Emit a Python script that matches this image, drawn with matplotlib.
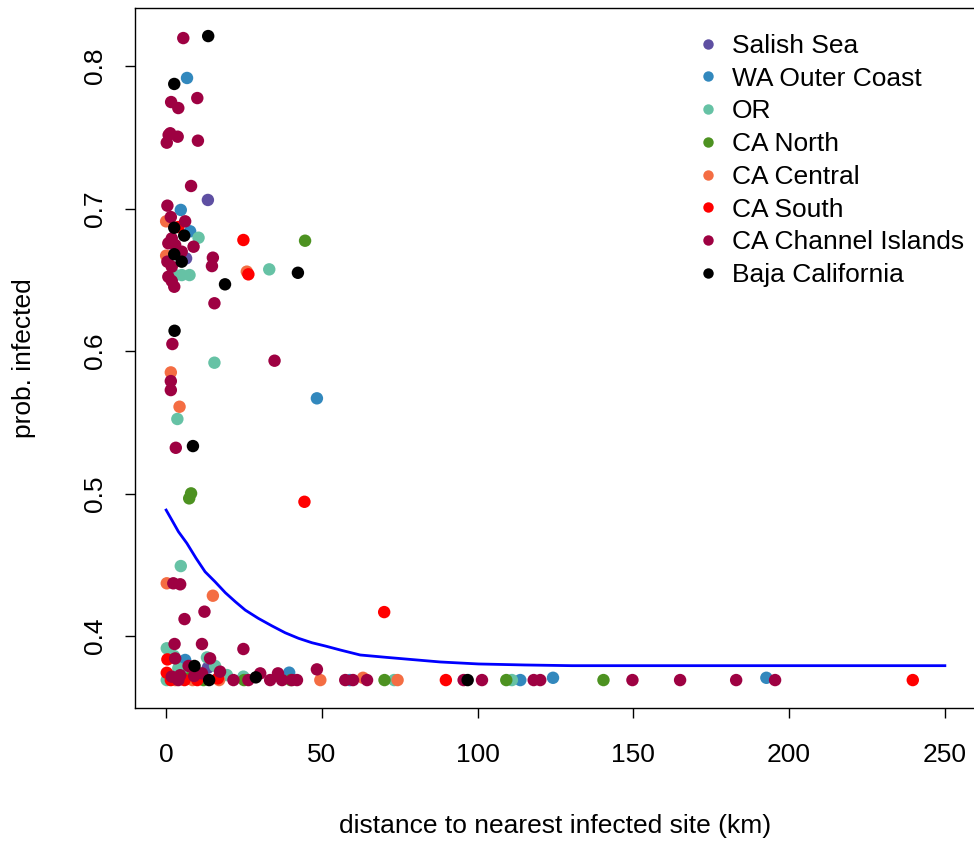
import matplotlib
matplotlib.use("Agg")
import matplotlib.pyplot as plt
from matplotlib.lines import Line2D

plt.rcParams['font.family'] = ['Liberation Sans', 'DejaVu Sans']

regions = ["Salish Sea", "WA Outer Coast", "OR", "CA North", "CA Central",
           "CA South", "CA Channel Islands", "Baja California"]
colors = ["#5E4FA2", "#3288BD", "#66C2A5", "#4D9221", "#F46D43",
          "#FF0000", "#9E0142", "#000000"]

salish_x = [13.4, 6.4, 13.4]
salish_y = [0.706, 0.665, 0.3778]

wa_x = [6.7, 4.7, 7.7, 48.4, 6.1, 39.5, 59.0, 113.7, 124.2, 192.7, 5.5]
wa_y = [0.7916, 0.699, 0.684, 0.5668, 0.3832, 0.3743, 0.3691, 0.3691, 0.3707, 0.3707, 0.372]

or_x = [10.4, 2.9, 5.0, 7.5, 33.1, 15.5, 3.6, 4.7, 0.2, 13.1, 3.9, 15.7, 0.2, 19.5,
        24.8, 73.2, 111.0, 2.5, 6.0]
or_y = [0.6795, 0.6533, 0.6533, 0.6533, 0.6573, 0.5918, 0.5523, 0.4491, 0.3914, 0.385,
        0.3774, 0.379, 0.3691, 0.3726, 0.3715, 0.3691, 0.3691, 0.386, 0.375]

can_x = [44.6, 8.0, 7.4, 7.2, 70.1, 109.2, 140.4, 25.0, 40.0, 12.0]
can_y = [0.6774, 0.5001, 0.4966, 0.3703, 0.3691, 0.3691, 0.3691, 0.3691, 0.3691, 0.3691]

cac_x = [0.0, 0.0, 25.9, 1.5, 4.3, 0.2, 15.0, 8.5, 49.5, 63.2, 74.3, 3.0, 17.0]
cac_y = [0.691, 0.6669, 0.6557, 0.585, 0.5609, 0.437, 0.4283, 0.3691, 0.3691, 0.3707,
         0.3691, 0.3691, 0.3691]

cas_x = [3.9, 24.8, 26.4, 44.4, 70.0, 0.4, 0.2, 5.9, 16.6, 89.8, 239.7, 1.5, 10.0]
cas_y = [0.687, 0.6779, 0.6538, 0.4942, 0.4168, 0.3836, 0.3742, 0.3691, 0.3703, 0.3691,
         0.3691, 0.3691, 0.3691]

cai_x = [5.5, 10.0, 1.6, 3.9, 0.8, 1.3, 3.7, 0.2, 10.2, 8.0, 0.4, 1.5, 6.1, 1.8, 0.7,
         8.8, 2.9, 5.0, 0.4, 15.0, 14.7, 1.8, 0.7, 1.8, 2.6, 15.5, 2.0, 34.8, 1.5, 1.5,
         3.1, 2.3, 4.5, 12.3, 5.9, 2.7, 11.5, 24.8, 2.9, 14.1, 7.2, 1.8, 3.9, 11.5, 17.3,
         21.6, 26.4, 30.2, 33.4, 35.9, 37.2, 40.4, 42.0, 48.4, 57.5, 60.0, 64.5, 95.5,
         101.4, 118.0, 120.1, 149.7, 165.0, 183.0, 195.5, 4.5, 9.0]
cai_y = [0.8196, 0.7775, 0.7747, 0.7705, 0.7516, 0.7528, 0.7504, 0.7462, 0.7476, 0.7158,
         0.702, 0.694, 0.691, 0.679, 0.6756, 0.6732, 0.6744, 0.6697, 0.6627, 0.6655,
         0.6596, 0.6592, 0.6521, 0.6491, 0.6451, 0.6335, 0.6049, 0.5932, 0.5789, 0.5726,
         0.5321, 0.437, 0.4363, 0.4171, 0.4119, 0.3944, 0.3944, 0.3909, 0.3843, 0.3843,
         0.379, 0.3715, 0.3691, 0.3738, 0.375, 0.3691, 0.3691, 0.3738, 0.3691, 0.3738,
         0.3691, 0.3691, 0.3691, 0.3766, 0.3691, 0.3691, 0.3691, 0.3691, 0.3691, 0.3691,
         0.3691, 0.3691, 0.3691, 0.3691, 0.3691, 0.3725, 0.372]

baja_x = [13.5, 2.6, 2.6, 5.8, 2.6, 5.0, 18.9, 42.3, 2.7, 8.6, 9.1, 13.8, 28.8, 96.8]
baja_y = [0.821, 0.7874, 0.6865, 0.681, 0.6679, 0.6627, 0.6468, 0.6549, 0.6142, 0.5333,
          0.379, 0.3691, 0.371, 0.3691]

curve_x = [0, 1.83, 3.95, 6.65, 9.63, 12.5, 15.7, 19.0, 22.2, 25.4, 29.6, 33.9, 38.2,
           42.5, 46.8, 51.1, 55.9, 62.3, 70.9, 80.5, 88.0, 100.3, 115.0, 130.3, 250]
curve_y = [0.4884, 0.4814, 0.4732, 0.4651, 0.4545, 0.4451, 0.4381, 0.4304, 0.4241,
           0.4182, 0.4124, 0.4072, 0.4023, 0.3984, 0.3953, 0.3930, 0.3902, 0.3867,
           0.3850, 0.3832, 0.3818, 0.3804, 0.3797, 0.3792, 0.3792]

xticks = [0, 50, 100, 150, 200, 250]
yticks = [0.4, 0.5, 0.6, 0.7, 0.8]

series_x = [salish_x, wa_x, or_x, can_x, cac_x, cas_x, cai_x, baja_x]
series_y = [salish_y, wa_y, or_y, can_y, cac_y, cas_y, cai_y, baja_y]

fig = plt.figure(figsize=(9.74, 8.42), dpi=100)
ax = fig.add_axes([135/974, 1 - 708/842, 841/974, 700/842])

for xs, ys, c in zip(series_x, series_y, colors):
    ax.scatter(xs, ys, s=80, color=c, edgecolors='none', zorder=2)

ax.plot(curve_x, curve_y, color='#0000FF', lw=2.0, zorder=3)

ax.set_xlim(-10, 260)
ax.set_ylim(0.3495, 0.8407)
ax.set_xticks(xticks)
ax.set_xticklabels([str(v) for v in xticks])
ax.set_yticks(yticks)
ax.set_yticklabels([f"{v:.1f}" for v in yticks], rotation=90, va='center')
ax.tick_params(axis='both', length=7, width=1, labelsize=19, color='black')
ax.tick_params(axis='x', pad=18)
ax.tick_params(axis='y', pad=13)
for sp in ax.spines.values():
    sp.set_linewidth(1.0)

ax.set_xlabel("distance to nearest infected site (km)", fontsize=19, labelpad=34)
ax.set_ylabel("prob. infected", fontsize=19, labelpad=34)

handles = [Line2D([0], [0], marker='o', linestyle='none', markersize=7.5,
                  markerfacecolor=c, markeredgecolor='none') for c in colors]
leg = fig.legend(handles, regions, loc='upper left',
                 bbox_to_anchor=(697.5/974, 1 - 34/842),
                 bbox_transform=fig.transFigure,
                 frameon=False, fontsize=19, handletextpad=0.5, labelspacing=0.33,
                 handlelength=0.8, borderaxespad=0, borderpad=0)

fig.savefig("out.png", dpi=100)
